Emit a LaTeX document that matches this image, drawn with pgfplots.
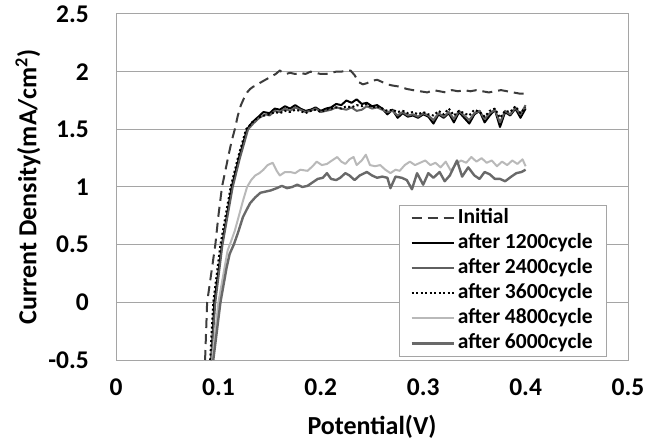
\documentclass[border=0pt]{standalone}
\usepackage{pgfplots}
\pgfplotsset{compat=1.18}
\usepackage{fontspec}
\setmainfont{Carlito}
\definecolor{gridc}{RGB}{165,165,165}
\definecolor{c2400}{RGB}{95,95,95}
\definecolor{c4800}{RGB}{185,185,185}
\definecolor{c6000}{RGB}{105,105,105}
\definecolor{cinit}{RGB}{60,60,60}
\begin{document}
\begin{tikzpicture}
\begin{axis}[
  name=ax,
  scale only axis,
  width=512pt, height=346pt,
  xmin=0, xmax=0.5, ymin=-0.5, ymax=2.5,
  xtick={0,0.1,0.2,0.3,0.4,0.5},
  ytick={-0.5,0,0.5,1,1.5,2,2.5},
  /pgf/number format/assume math mode=true,
  xticklabel style={font=\bfseries\fontsize{25.5}{25.5}\selectfont, anchor=base, inner sep=0pt, yshift=-35pt},
  yticklabel style={font=\bfseries\fontsize{25.5}{25.5}\selectfont, anchor=east, inner sep=0pt, xshift=-27pt},
  major tick length=0pt,
  xtick pos=left, ytick pos=left,
  ymajorgrids, grid style={gridc, line width=1pt},
  axis line style={gridc, line width=1pt},
  xlabel={\bfseries Potential(V)},
  ylabel={\bfseries Current Density(mA/cm\textsuperscript{2})},
  xlabel style={font=\fontsize{26}{26}\selectfont, at={([yshift=-74pt]axis description cs:0.5,0)}, anchor=base, inner sep=0pt},
  ylabel style={font=\fontsize{26}{26}\selectfont, at={([xshift=-88pt]axis description cs:0,0.5)}, anchor=center, inner sep=0pt},
  legend style={at={(0.959,0.009)}, anchor=south east, draw=gridc, line width=0.8pt,
     font=\bfseries\fontsize{21.5}{21.5}\selectfont, row sep=0.5pt, inner xsep=11pt, inner ysep=0.8pt,
     nodes={text height=15.5pt, text depth=5pt, inner xsep=3pt, inner ysep=2pt}},
  legend cell align=left,
  legend image code/.code={\draw[#1] (0pt,0pt) -- (42pt,0pt);},
  every axis plot/.append style={line width=2pt, line join=round},
]
\addplot[cinit, dash pattern=on 10pt off 6pt] coordinates {
(0.087,-0.5)(0.089,0)(0.093,0.25)(0.097,0.5)(0.1,0.75)(0.1035,1.0)(0.107,1.15)(0.110,1.28)(0.113,1.4)(0.116,1.5)
(0.119,1.62)(0.122,1.71)(0.125,1.77)(0.128,1.82)(0.131,1.85)(0.134,1.87)(0.137,1.88)(0.140,1.90)(0.144,1.92)(0.148,1.94)
(0.152,1.96)(0.156,1.98)(0.160,2.01)(0.163,1.99)(0.166,1.98)(0.170,1.99)(0.175,1.98)(0.180,1.99)(0.185,1.98)(0.190,2.00)
(0.195,1.99)(0.200,1.98)(0.205,1.98)(0.210,1.99)(0.215,2.00)(0.220,2.00)(0.225,2.01)(0.229,2.01)(0.233,1.97)(0.237,1.91)
(0.241,1.89)(0.245,1.90)(0.250,1.92)(0.255,1.93)(0.260,1.91)(0.265,1.89)(0.270,1.88)(0.277,1.87)(0.284,1.85)(0.290,1.84)
(0.297,1.83)(0.304,1.82)(0.310,1.84)(0.316,1.83)(0.322,1.82)(0.328,1.84)(0.334,1.83)(0.340,1.84)(0.346,1.83)(0.352,1.84)
(0.358,1.83)(0.364,1.82)(0.370,1.83)(0.376,1.84)(0.382,1.83)(0.388,1.82)(0.394,1.81)(0.400,1.81)};
\addlegendentry{Initial}
\addplot[black] coordinates {
(0.093,-0.5)(0.096,0)(0.1035,0.5)(0.113,1.0)(0.12,1.25)(0.128,1.5)(0.133,1.56)(0.138,1.6)(0.144,1.65)(0.15,1.64)
(0.155,1.68)(0.16,1.67)(0.165,1.7)(0.17,1.68)(0.175,1.71)(0.18,1.68)(0.185,1.66)(0.19,1.67)(0.195,1.69)(0.2,1.66)
(0.205,1.68)(0.21,1.69)(0.215,1.72)(0.22,1.71)(0.225,1.75)(0.23,1.73)(0.235,1.76)(0.24,1.72)(0.245,1.73)(0.25,1.70)
(0.255,1.71)(0.26,1.68)(0.265,1.63)(0.27,1.67)(0.275,1.6)(0.28,1.64)(0.285,1.61)(0.29,1.62)(0.295,1.6)(0.3,1.63)
(0.305,1.61)(0.31,1.55)(0.315,1.63)(0.32,1.6)(0.325,1.64)(0.33,1.56)(0.335,1.65)(0.34,1.6)(0.345,1.55)(0.35,1.63)
(0.355,1.66)(0.36,1.56)(0.365,1.62)(0.37,1.67)(0.375,1.52)(0.38,1.65)(0.385,1.62)(0.39,1.68)(0.395,1.6)(0.4,1.68)};
\addlegendentry{after 1200cycle}
\addplot[c2400] coordinates {
(0.093,-0.5)(0.097,0)(0.104,0.5)(0.114,1.0)(0.121,1.25)(0.129,1.5)(0.134,1.55)(0.14,1.6)(0.146,1.63)(0.15,1.62)
(0.155,1.66)(0.16,1.65)(0.165,1.68)(0.17,1.66)(0.175,1.69)(0.18,1.67)(0.185,1.65)(0.19,1.66)(0.195,1.68)(0.2,1.65)
(0.205,1.66)(0.21,1.67)(0.215,1.69)(0.22,1.68)(0.225,1.67)(0.23,1.69)(0.235,1.66)(0.24,1.67)(0.245,1.70)(0.25,1.68)
(0.255,1.69)(0.26,1.67)(0.265,1.65)(0.27,1.66)(0.275,1.62)(0.28,1.65)(0.285,1.62)(0.29,1.63)(0.295,1.61)(0.3,1.64)
(0.305,1.62)(0.31,1.58)(0.315,1.64)(0.32,1.61)(0.325,1.65)(0.33,1.59)(0.335,1.66)(0.34,1.62)(0.345,1.58)(0.35,1.64)
(0.355,1.66)(0.36,1.59)(0.365,1.64)(0.37,1.67)(0.375,1.56)(0.38,1.66)(0.385,1.63)(0.39,1.69)(0.395,1.63)(0.4,1.71)};
\addlegendentry{after 2400cycle}
\addplot[black, dash pattern=on 2pt off 2.5pt] coordinates {
(0.092,-0.5)(0.095,0)(0.102,0.5)(0.112,1.0)(0.119,1.25)(0.127,1.5)(0.133,1.56)(0.138,1.6)(0.145,1.62)(0.15,1.63)
(0.155,1.65)(0.16,1.64)(0.165,1.66)(0.17,1.65)(0.175,1.67)(0.18,1.66)(0.185,1.64)(0.19,1.66)(0.195,1.67)(0.2,1.65)
(0.205,1.67)(0.21,1.68)(0.215,1.69)(0.22,1.68)(0.225,1.70)(0.23,1.69)(0.235,1.71)(0.24,1.70)(0.245,1.72)(0.25,1.69)
(0.255,1.70)(0.26,1.68)(0.265,1.66)(0.27,1.67)(0.275,1.65)(0.28,1.66)(0.285,1.64)(0.29,1.65)(0.295,1.63)(0.3,1.65)
(0.305,1.63)(0.31,1.62)(0.315,1.66)(0.32,1.63)(0.325,1.68)(0.33,1.62)(0.335,1.66)(0.34,1.64)(0.345,1.62)(0.35,1.67)
(0.355,1.65)(0.36,1.61)(0.365,1.66)(0.37,1.68)(0.375,1.60)(0.38,1.66)(0.385,1.65)(0.39,1.70)(0.395,1.64)(0.4,1.69)};
\addlegendentry{after 3600cycle}
\addplot[c4800] coordinates {
(0.094,-0.5)(0.1,0)(0.106,0.3)(0.109,0.45)(0.112,0.52)(0.116,0.62)(0.12,0.75)(0.124,0.88)(0.128,1.0)(0.132,1.06)
(0.136,1.1)(0.14,1.12)(0.144,1.15)(0.148,1.19)(0.153,1.21)(0.157,1.14)(0.16,1.10)(0.165,1.13)(0.17,1.13)(0.175,1.12)
(0.18,1.15)(0.187,1.14)(0.192,1.18)(0.196,1.22)(0.201,1.19)(0.206,1.20)(0.211,1.23)(0.216,1.26)(0.22,1.22)(0.224,1.20)
(0.228,1.24)(0.232,1.26)(0.235,1.19)(0.24,1.23)(0.244,1.28)(0.248,1.19)(0.253,1.18)(0.258,1.19)(0.263,1.15)(0.268,1.12)
(0.273,1.15)(0.277,1.14)(0.282,1.19)(0.287,1.22)(0.292,1.19)(0.297,1.21)(0.302,1.23)(0.307,1.19)(0.312,1.21)(0.317,1.17)
(0.322,1.22)(0.327,1.14)(0.332,1.20)(0.337,1.23)(0.342,1.21)(0.347,1.26)(0.352,1.22)(0.357,1.25)(0.362,1.21)(0.367,1.23)
(0.372,1.18)(0.377,1.22)(0.382,1.19)(0.387,1.23)(0.392,1.20)(0.397,1.24)(0.4,1.18)};
\addlegendentry{after 4800cycle}
\addplot[c6000, line width=2.4pt] coordinates {
(0.095,-0.5)(0.102,0)(0.108,0.3)(0.111,0.42)(0.115,0.5)(0.119,0.6)(0.124,0.74)(0.128,0.81)(0.131,0.86)(0.136,0.91)
(0.141,0.95)(0.146,0.96)(0.151,0.97)(0.157,0.99)(0.162,1.01)(0.167,0.99)(0.172,1.0)(0.177,1.02)(0.182,1.0)(0.187,1.01)
(0.192,1.04)(0.197,1.07)(0.202,1.08)(0.206,1.12)(0.21,1.07)(0.215,1.06)(0.219,1.08)(0.224,1.12)(0.228,1.10)(0.233,1.06)
(0.238,1.10)(0.245,1.13)(0.25,1.10)(0.255,1.08)(0.26,1.09)(0.265,1.08)(0.268,0.99)(0.273,1.09)(0.279,1.08)(0.284,1.06)
(0.289,0.98)(0.294,1.12)(0.3,1.02)(0.305,1.12)(0.31,1.08)(0.316,1.13)(0.321,1.05)(0.326,1.10)(0.333,1.23)(0.338,1.09)
(0.344,1.17)(0.35,1.10)(0.355,1.07)(0.36,1.13)(0.365,1.11)(0.37,1.07)(0.375,1.07)(0.38,1.05)(0.386,1.09)(0.391,1.12)
(0.396,1.13)(0.4,1.15)};
\addlegendentry{after 6000cycle}
\end{axis}
\path ([xshift=-116pt,yshift=-81pt]ax.south west) rectangle ([xshift=21pt,yshift=14pt]ax.north east);
\end{tikzpicture}
\end{document}
